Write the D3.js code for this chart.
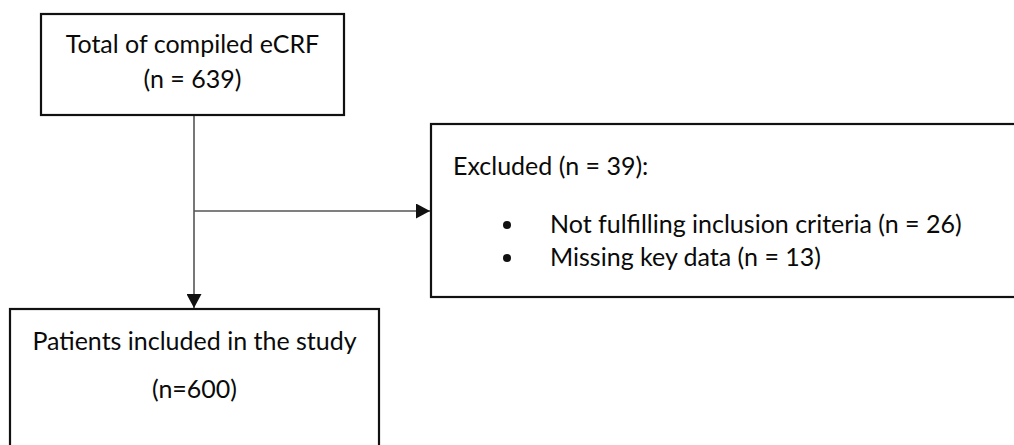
<!DOCTYPE html>
<html>
<head>
<meta charset="utf-8">
<script src="https://cdn.jsdelivr.net/npm/d3@7"></script>
<style>
  body { margin: 0; background: #fff; }
  text { font-family: Lato, "Open Sans", sans-serif; fill: #0a0a0a; }
</style>
</head>
<body>
<script>
// flowchart content
const totalLines = ["Total of compiled eCRF", "(n = 639)"]
const excludedTitle = "Excluded (n = 39):"
const excludedItems = ["Not fulfilling inclusion criteria (n = 26)", "Missing key data (n = 13)"]
const includedLines = ["Patients included in the study", "(n=600)"]

const width = 1014
const height = 445

// box geometry
let boxes = {
  total: {x: 41, y: 14, w: 303, h: 101},
  excluded: {x: 431, y: 124, w: 600, h: 173},
  included: {x: 10, y: 309, w: 369, h: 160}
}

const svg = d3.select("body")
  .append("svg")
  .attr("width", width)
  .attr("height", height)

const defs = svg.append("defs")
defs.append("marker")
  .attr("id", "arrow")
  .attr("viewBox", "0 0 10 10")
  .attr("refX", 10)
  .attr("refY", 5)
  .attr("markerWidth", 14)
  .attr("markerHeight", 15)
  .attr("markerUnits", "userSpaceOnUse")
  .attr("orient", "auto")
  .attr("preserveAspectRatio", "none")
  .append("path")
  .attr("d", "M0,0L10,5L0,10Z")
  .attr("fill", "#111")

const spineX = 194
const branchY = 211

// connectors
svg.append("line")
  .attr("x1", spineX).attr("y1", boxes.total.y + boxes.total.h)
  .attr("x2", spineX).attr("y2", boxes.included.y - 1)
  .attr("stroke", "#555").attr("stroke-width", 1.6)
  .attr("marker-end", "url(#arrow)")

svg.append("line")
  .attr("x1", spineX).attr("y1", branchY)
  .attr("x2", boxes.excluded.x - 1).attr("y2", branchY)
  .attr("stroke", "#555").attr("stroke-width", 1.6)
  .attr("marker-end", "url(#arrow)")

// boxes
svg.selectAll("rect.box")
  .data(Object.values(boxes))
  .join("rect")
  .attr("class", "box")
  .attr("x", d => d.x)
  .attr("y", d => d.y)
  .attr("width", d => d.w)
  .attr("height", d => d.h)
  .attr("fill", "none")
  .attr("stroke", "#111")
  .attr("stroke-width", 2.2)

// total box text
svg.selectAll("text.total")
  .data(totalLines)
  .join("text")
  .attr("class", "total")
  .attr("x", boxes.total.x + boxes.total.w / 2)
  .attr("y", (d, i) => 53 + i * 35)
  .attr("text-anchor", "middle")
  .attr("font-size", 25)
  .text(d => d)

// excluded box text
svg.append("text")
  .attr("x", 453)
  .attr("y", 175)
  .attr("font-size", 25)
  .text(excludedTitle)

let items = svg.selectAll("g.item")
  .data(excludedItems)
  .join("g")
  .attr("class", "item")
  .attr("transform", (d, i) => `translate(0,${233 + i * 33})`)

items.append("circle")
  .attr("cx", 507)
  .attr("cy", -8)
  .attr("r", 4)
  .attr("fill", "#111")

items.append("text")
  .attr("x", 550)
  .attr("font-size", 25)
  .text(d => d)

// included box text
svg.selectAll("text.included")
  .data(includedLines)
  .join("text")
  .attr("class", "included")
  .attr("x", boxes.included.x + boxes.included.w / 2)
  .attr("y", (d, i) => 350 + i * 48)
  .attr("text-anchor", "middle")
  .attr("font-size", 25)
  .text(d => d)
</script>
</body>
</html>
